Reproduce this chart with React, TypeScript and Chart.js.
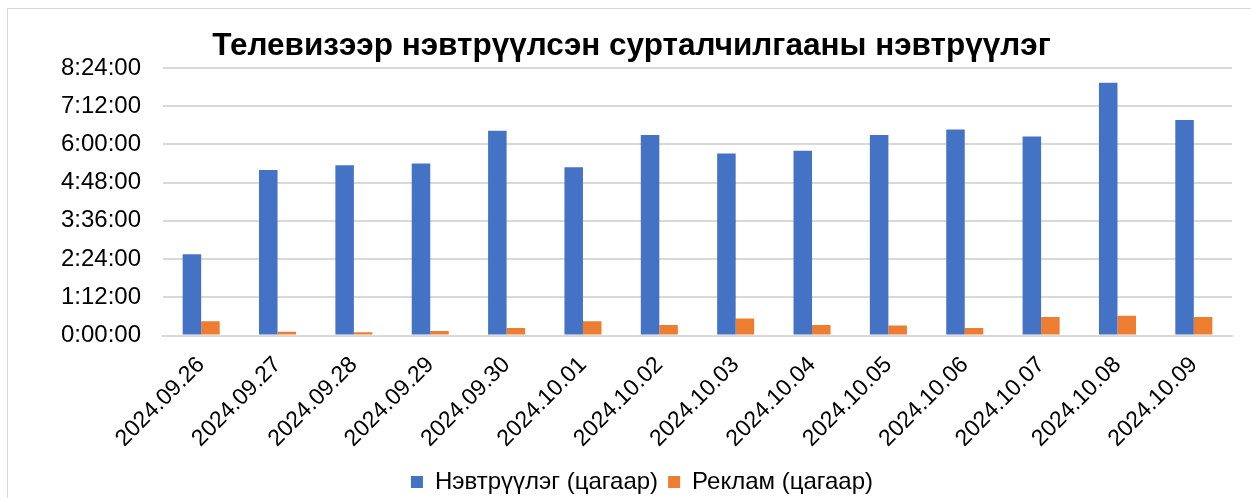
import React, { useEffect, useRef } from "react";
import { Chart, registerables } from "chart.js";

Chart.register(...registerables);

const TITLE = "Телевизээр нэвтрүүлсэн сурталчилгааны нэвтрүүлэг";
const categories = [
  "2024.09.26", "2024.09.27", "2024.09.28", "2024.09.29", "2024.09.30",
  "2024.10.01", "2024.10.02", "2024.10.03", "2024.10.04", "2024.10.05",
  "2024.10.06", "2024.10.07", "2024.10.08", "2024.10.09",
];
const broadcastLabel = "Нэвтрүүлэг (цагаар)";
const adLabel = "Реклам (цагаар)";
// durations as H:MM:SS
const broadcast = [
  "2:33:00", "5:12:00", "5:21:00", "5:24:00", "6:26:00", "5:17:00", "6:18:00",
  "5:43:00", "5:48:00", "6:18:00", "6:28:00", "6:15:00", "7:56:00", "6:46:00",
];
const ads = [
  "0:27:00", "0:07:00", "0:06:00", "0:08:30", "0:14:00", "0:27:00", "0:20:00",
  "0:32:00", "0:20:00", "0:19:00", "0:14:00", "0:35:00", "0:37:00", "0:35:00",
];
const yTicks = ["0:00:00", "1:12:00", "2:24:00", "3:36:00", "4:48:00", "6:00:00", "7:12:00", "8:24:00"];

const toMin = (s: string) => {
  const [h, m, sec] = s.split(":").map(Number);
  return h * 60 + m + sec / 60;
};
const fmt = (v: number) => {
  const total = Math.round(v * 60);
  const h = Math.floor(total / 3600);
  const m = Math.floor((total % 3600) / 60);
  const s = total % 60;
  return `${h}:${String(m).padStart(2, "0")}:${String(s).padStart(2, "0")}`;
};

const FONT = 'Arial, "Liberation Sans", sans-serif';

const titlePlugin = {
  id: "customTitle",
  afterLayout(chart: any) {
    // centre the legend under the full chart box, as in the original
    if (chart.legend) {
      chart.legend.left += 22;
      chart.legend.right += 22;
    }
  },
  afterDraw(chart: any) {
    const ctx = chart.ctx;
    ctx.save();
    ctx.font = `bold 31.5px ${FONT}`;
    ctx.fillStyle = "#000";
    ctx.textAlign = "center";
    ctx.textBaseline = "middle";
    ctx.fillText(TITLE, chart.width / 2 + 2, 37.5);
    ctx.restore();
  },
};

export default function App() {
  const ref = useRef<HTMLCanvasElement>(null);
  useEffect(() => {
    if (!ref.current) return;
    const yMax = toMin(yTicks[yTicks.length - 1]);
    const step = toMin(yTicks[1]);
    const chart = new Chart(ref.current, {
      type: "bar",
      data: {
        labels: categories,
        datasets: [
          { label: broadcastLabel, data: broadcast.map(toMin), backgroundColor: "#4472C4" },
          { label: adLabel, data: ads.map(toMin), backgroundColor: "#ED7D31" },
        ],
      },
      plugins: [titlePlugin],
      options: {
        animation: false,
        responsive: true,
        maintainAspectRatio: false,
        datasets: { bar: { categoryPercentage: 0.485, barPercentage: 1 } },
        layout: { padding: { left: 0, right: 19, top: 59, bottom: -6 } },
        plugins: {
          title: { display: false },
          legend: {
            position: "bottom",
            labels: {
              color: "#000",
              font: { family: FONT, size: 24 },
              boxWidth: 12,
              boxHeight: 12,
              padding: 10,
            },
          },
          tooltip: { enabled: false },
        },
        scales: {
          x: {
            grid: { display: false },
            border: { color: "#d9d9d9", width: 2 },
            ticks: {
              color: "#000",
              font: { family: FONT, size: 23 },
              minRotation: 45,
              maxRotation: 45,
              padding: 8,
            },
            afterFit: (s: any) => {
              s.height = 124.5;
            },
          },
          y: {
            min: 0,
            max: yMax,
            border: { display: false },
            grid: { color: "#d9d9d9", lineWidth: 2, drawTicks: false },
            ticks: {
              stepSize: step,
              color: "#000",
              font: { family: FONT, size: 24 },
              padding: 22,
              callback: (v: any) => fmt(Number(v)),
            },
            afterFit: (s: any) => {
              s.width = 155;
            },
          },
        },
      },
    });
    return () => chart.destroy();
  }, []);
  return (
    <div
      style={{
        position: "fixed",
        left: 7,
        top: 8,
        width: 1244,
        height: 490,
        borderTop: "1px solid #d9d9d9",
        borderLeft: "1px solid #d9d9d9",
        boxSizing: "border-box",
        background: "#fff",
      }}
    >
      <div style={{ position: "relative", width: 1243, height: 489 }}>
        <canvas ref={ref} />
      </div>
    </div>
  );
}
